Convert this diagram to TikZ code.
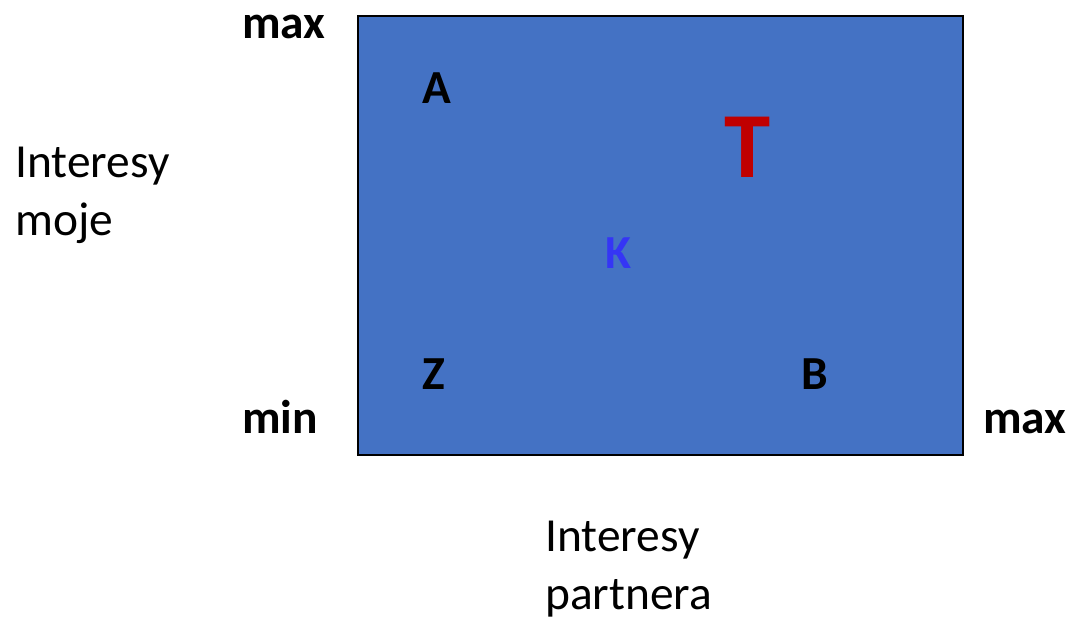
\documentclass[tikz,border=0pt]{standalone}
\usepackage{fontspec}
\setmainfont{Carlito}
\definecolor{boxblue}{HTML}{4472C4}
\definecolor{tred}{HTML}{C00000}
\definecolor{kblue}{HTML}{3535F5}
\tikzset{
  lbl/.style={font=\fontsize{27}{33}\selectfont, inner sep=0pt},
  blbl/.style={font=\fontsize{27}{33}\selectfont\bfseries, inner sep=0pt},
}
\begin{document}
\begin{tikzpicture}[x=0.02cm,y=-0.02cm]
\useasboundingbox (0,0) rectangle (1074,621);
\coordinate (SW) at (358,455);
\coordinate (NE) at (963,16);

\draw[fill=boxblue, line width=0.8pt] (SW) rectangle (NE);

\node[blbl, anchor=base] (maxtop) at (284,39) {max};
\node[blbl, anchor=base] (minleft) at (280,433) {min};
\node[blbl, anchor=base] (maxright) at (1025,433) {max};

\node[blbl] (A) at (437,88) {A};
\node[blbl] (Z) at (434,374) {Z};
\node[blbl] (B) at (815,374) {B};
\node[blbl, text=kblue] (K) at (618,253) {K};
\node[font=\fontsize{53}{60}\selectfont\bfseries, text=tred, inner sep=0pt] (T) at (748,147) {T};

\node[lbl, anchor=west, align=left] (moje) at (15,195) {Interesy\\moje};
\node[lbl, anchor=west, align=left] (partnera) at (545,569) {Interesy\\partnera};
\end{tikzpicture}
\end{document}
